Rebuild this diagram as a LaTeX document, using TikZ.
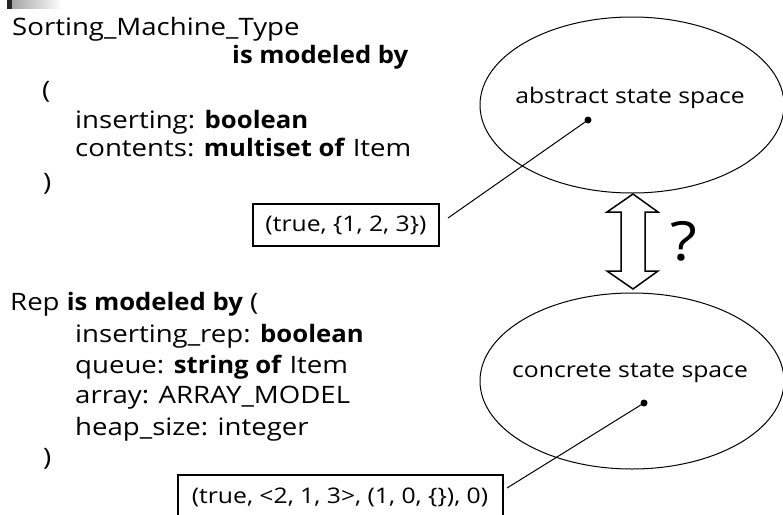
\documentclass[tikz,border=0pt]{standalone}
\usepackage{fontspec}
\setmainfont[FakeStretch=1.15,BoldFeatures={FakeStretch=1.07}]{Open Sans}
\begin{document}
\begin{tikzpicture}[x=1pt,y=-1pt,
  txt/.style={anchor=base west,inner sep=0pt,font=\fontsize{24}{28}\selectfont},
  small/.style={font=\fontsize{21.5}{25}\selectfont},
  space/.style={inner sep=0pt,minimum width=304pt,minimum height=176pt},
  link/.style={line width=1pt},
  dotn/.style={circle,fill,inner sep=0pt,minimum size=7pt}]
\useasboundingbox (0,0) rectangle (783,514);
\clip (0,0) rectangle (783,514);
% slide decoration
\shade[left color=gray!70,right color=white] (12,0) rectangle (62,8);
\fill[black!85] (7,0) rectangle (12,9);
% left texts
\node[txt] (t1) at (12,35) {Sorting\_Machine\_Type};
\node[txt] (t2) at (232,63) {\bfseries is modeled by};
\node[txt] (t3) at (42,98) {(};
\node[txt] (t4) at (75,128) {inserting: \textbf{boolean}};
\node[txt] (t5) at (75,156) {contents: \textbf{multiset of} Item};
\node[txt] (t6) at (43,190) {)};
\node[txt] (r1) at (10,310) {Rep \textbf{is modeled by} (};
\node[txt] (r2) at (75,342) {inserting\_rep: \textbf{boolean}};
\node[txt] (r3) at (75,373) {queue: \textbf{string of} Item};
\node[txt] (r4) at (75,403) {array: ARRAY\_MODEL};
\node[txt] (r5) at (75,435) {heap\_size: integer};
\node[txt] (r6) at (43,465) {)};
% ellipses
\draw[line width=1pt] (632,105) ellipse [x radius=152, y radius=88];
\node[space] (abs) at (632,105) {};
\node[small,anchor=base] (abslbl) at (630,103) {abstract state space};
\draw[line width=1pt] (632,381) ellipse [x radius=152, y radius=88];
\node[space] (con) at (632,381) {};
\node[small,anchor=base] (conlbl) at (630,377) {concrete state space};
% dots
\node[dotn] (d1) at (588,120) {};
\node[dotn] (d2) at (644,403) {};
% value boxes
\draw[line width=1.2pt] (253,204) rectangle (439,246);
\node[small] (v1) at (346,225) {(true, \{1, 2, 3\})};
\draw[line width=1.2pt] (178,475) rectangle (503,530);
\node[small] (v2) at (340,497) {(true, <2, 1, 3>, (1, 0, \{\}), 0)};
\coordinate (e1) at (448,218);
\coordinate (e2) at (507,488);
\draw[link] (e1) -- (d1.center);
\draw[link] (e2) -- (d2.center);
% double arrow
\draw[line width=1.5pt,line join=miter] (633,194) -- (658,212) -- (645,212) -- (645,271) -- (658,271) -- (633,289) -- (607,271) -- (621,271) -- (621,212) -- (607,212) -- cycle;
\node[font=\fontsize{54}{60}\selectfont,anchor=base west,inner sep=0pt] (q) at (670,260) {?};
\end{tikzpicture}
\end{document}
